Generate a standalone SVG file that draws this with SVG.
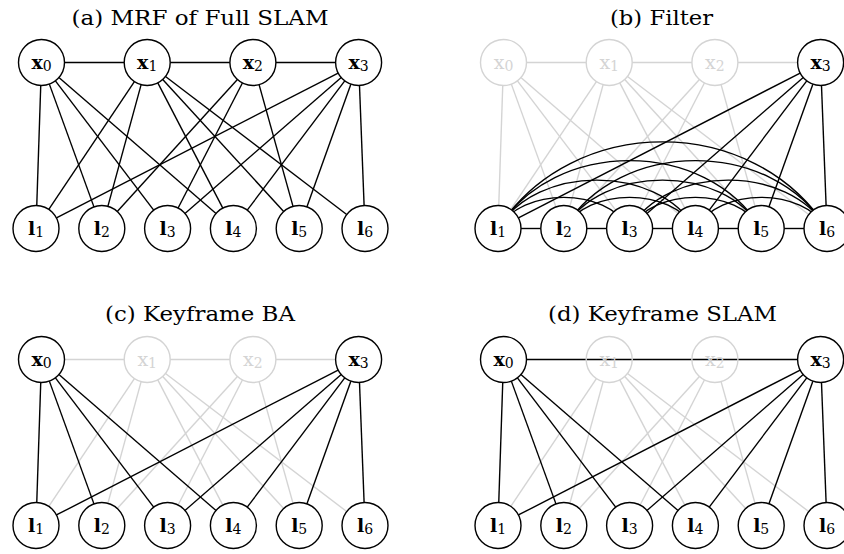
<svg xmlns="http://www.w3.org/2000/svg" width="844" height="554" viewBox="0 0 844 554">
<style>
.title{font-family:"DejaVu Serif","Liberation Serif",serif;font-size:21px;fill:#000;text-anchor:middle}
.lbl{font-family:"DejaVu Serif","Liberation Serif",serif;font-size:19px;text-anchor:middle;fill:#000}
.lbl .v{font-weight:bold}
.lbl .s{font-size:14px}
.ghost .lbl{fill:#d4d4d4}
.node circle{fill:#fff;stroke:#000;stroke-width:1.4}
.ghost circle{fill:none;stroke:#d4d4d4}
.edge line,.edge path{stroke:#000;stroke-width:1.4;fill:none}
.edge .g{stroke:#d4d4d4}
</style>
<rect width="844" height="554" fill="#fff"/>

<!-- Panel (a) -->
<g id="panel-a">
<text class="title" x="200" y="25" textLength="257" lengthAdjust="spacingAndGlyphs">(a) MRF of Full SLAM</text>
<g id="a-connectors" class="edge">
<line x1="64.5" y1="62.5" x2="124.2" y2="62.5"/>
<line x1="170.2" y1="62.5" x2="229.9" y2="62.5"/>
<line x1="275.9" y1="62.5" x2="335.6" y2="62.5"/>
<line x1="40.74" y1="85.49" x2="36.76" y2="205.51"/>
<line x1="49.35" y1="84.12" x2="93.95" y2="206.88"/>
<line x1="55.41" y1="80.82" x2="153.69" y2="210.19"/>
<line x1="58.9" y1="77.55" x2="216" y2="213.45"/>
<line x1="134.4" y1="81.61" x2="48.8" y2="209.39"/>
<line x1="141.13" y1="84.69" x2="107.87" y2="206.31"/>
<line x1="157.8" y1="82.91" x2="222.8" y2="208.09"/>
<line x1="162.73" y1="79.46" x2="283.67" y2="211.54"/>
<line x1="165.49" y1="76.44" x2="346.71" y2="214.56"/>
<line x1="237.42" y1="79.51" x2="117.28" y2="211.49"/>
<line x1="242.39" y1="82.96" x2="178.11" y2="208.04"/>
<line x1="259.08" y1="84.65" x2="293.02" y2="206.35"/>
<line x1="338.15" y1="73.02" x2="56.45" y2="217.98"/>
<line x1="341.24" y1="77.59" x2="184.96" y2="213.41"/>
<line x1="344.75" y1="80.86" x2="247.25" y2="210.14"/>
<line x1="350.85" y1="84.16" x2="306.95" y2="206.84"/>
<line x1="359.49" y1="85.48" x2="364.11" y2="205.52"/>
</g>
<g id="a-x0" class="node"><circle cx="41.5" cy="62.5" r="23"/><text class="lbl" x="41.5" y="68.5"><tspan class="v">x</tspan><tspan class="s" dy="2">0</tspan></text></g>
<g id="a-x1" class="node"><circle cx="147.2" cy="62.5" r="23"/><text class="lbl" x="147.2" y="68.5"><tspan class="v">x</tspan><tspan class="s" dy="2">1</tspan></text></g>
<g id="a-x2" class="node"><circle cx="252.9" cy="62.5" r="23"/><text class="lbl" x="252.9" y="68.5"><tspan class="v">x</tspan><tspan class="s" dy="2">2</tspan></text></g>
<g id="a-x3" class="node"><circle cx="358.6" cy="62.5" r="23"/><text class="lbl" x="358.6" y="68.5"><tspan class="v">x</tspan><tspan class="s" dy="2">3</tspan></text></g>
<g id="a-l1" class="node"><circle cx="36" cy="228.5" r="23"/><text class="lbl" x="36" y="235"><tspan class="v">l</tspan><tspan class="s" dy="2">1</tspan></text></g>
<g id="a-l2" class="node"><circle cx="101.8" cy="228.5" r="23"/><text class="lbl" x="101.8" y="235"><tspan class="v">l</tspan><tspan class="s" dy="2">2</tspan></text></g>
<g id="a-l3" class="node"><circle cx="167.6" cy="228.5" r="23"/><text class="lbl" x="167.6" y="235"><tspan class="v">l</tspan><tspan class="s" dy="2">3</tspan></text></g>
<g id="a-l4" class="node"><circle cx="233.4" cy="228.5" r="23"/><text class="lbl" x="233.4" y="235"><tspan class="v">l</tspan><tspan class="s" dy="2">4</tspan></text></g>
<g id="a-l5" class="node"><circle cx="299.2" cy="228.5" r="23"/><text class="lbl" x="299.2" y="235"><tspan class="v">l</tspan><tspan class="s" dy="2">5</tspan></text></g>
<g id="a-l6" class="node"><circle cx="365" cy="228.5" r="23"/><text class="lbl" x="365" y="235"><tspan class="v">l</tspan><tspan class="s" dy="2">6</tspan></text></g>
</g>

<!-- Panel (b) -->
<g id="panel-b" transform="translate(462,0)">
<text class="title" x="199.5" y="25" textLength="103" lengthAdjust="spacingAndGlyphs">(b) Filter</text>
<g id="b-connectors" class="edge">
<line class="g" x1="64.5" y1="62.5" x2="124.2" y2="62.5"/>
<line class="g" x1="170.2" y1="62.5" x2="229.9" y2="62.5"/>
<line class="g" x1="275.9" y1="62.5" x2="335.6" y2="62.5"/>
<line class="g" x1="40.74" y1="85.49" x2="36.76" y2="205.51"/>
<line class="g" x1="49.35" y1="84.12" x2="93.95" y2="206.88"/>
<line class="g" x1="55.41" y1="80.82" x2="153.69" y2="210.19"/>
<line class="g" x1="58.9" y1="77.55" x2="216" y2="213.45"/>
<line class="g" x1="134.4" y1="81.61" x2="48.8" y2="209.39"/>
<line class="g" x1="141.13" y1="84.69" x2="107.87" y2="206.31"/>
<line class="g" x1="157.8" y1="82.91" x2="222.8" y2="208.09"/>
<line class="g" x1="162.73" y1="79.46" x2="283.67" y2="211.54"/>
<line class="g" x1="165.49" y1="76.44" x2="346.71" y2="214.56"/>
<line class="g" x1="237.42" y1="79.51" x2="117.28" y2="211.49"/>
<line class="g" x1="242.39" y1="82.96" x2="178.11" y2="208.04"/>
<line class="g" x1="259.08" y1="84.65" x2="293.02" y2="206.35"/>
<line x1="338.15" y1="73.02" x2="56.45" y2="217.98"/>
<line x1="341.24" y1="77.59" x2="184.96" y2="213.41"/>
<line x1="344.75" y1="80.86" x2="247.25" y2="210.14"/>
<line x1="350.85" y1="84.16" x2="306.95" y2="206.84"/>
<line x1="359.49" y1="85.48" x2="364.11" y2="205.52"/>
<line x1="59" y1="228.5" x2="78.8" y2="228.5"/>
<line x1="124.8" y1="228.5" x2="144.6" y2="228.5"/>
<line x1="190.6" y1="228.5" x2="210.4" y2="228.5"/>
<line x1="256.4" y1="228.5" x2="276.2" y2="228.5"/>
<line x1="322.2" y1="228.5" x2="342" y2="228.5"/>
<path d="M36,228.5 C60,187 143.6,187 167.6,228.5"/>
<path d="M101.8,228.5 C125.8,187 209.4,187 233.4,228.5"/>
<path d="M167.6,228.5 C191.6,187 275.2,187 299.2,228.5"/>
<path d="M233.4,228.5 C257.4,187 341,187 365,228.5"/>
<path d="M36,228.5 C75,164 194.4,164 233.4,228.5"/>
<path d="M101.8,228.5 C140.8,164 260.2,164 299.2,228.5"/>
<path d="M167.6,228.5 C206.6,164 326,164 365,228.5"/>
<path d="M36,228.5 C92,138 243.2,138 299.2,228.5"/>
<path d="M101.8,228.5 C157.8,138 309,138 365,228.5"/>
<path d="M36,228.5 C110,113 291,113 365,228.5"/>
</g>
<g id="b-x0" class="node ghost"><circle cx="41.5" cy="62.5" r="23"/><text class="lbl" x="41.5" y="68.5"><tspan>x</tspan><tspan class="s" dy="2">0</tspan></text></g>
<g id="b-x1" class="node ghost"><circle cx="147.2" cy="62.5" r="23"/><text class="lbl" x="147.2" y="68.5"><tspan>x</tspan><tspan class="s" dy="2">1</tspan></text></g>
<g id="b-x2" class="node ghost"><circle cx="252.9" cy="62.5" r="23"/><text class="lbl" x="252.9" y="68.5"><tspan>x</tspan><tspan class="s" dy="2">2</tspan></text></g>
<g id="b-x3" class="node"><circle cx="358.6" cy="62.5" r="23"/><text class="lbl" x="358.6" y="68.5"><tspan class="v">x</tspan><tspan class="s" dy="2">3</tspan></text></g>
<g id="b-l1" class="node"><circle cx="36" cy="228.5" r="23"/><text class="lbl" x="36" y="235"><tspan class="v">l</tspan><tspan class="s" dy="2">1</tspan></text></g>
<g id="b-l2" class="node"><circle cx="101.8" cy="228.5" r="23"/><text class="lbl" x="101.8" y="235"><tspan class="v">l</tspan><tspan class="s" dy="2">2</tspan></text></g>
<g id="b-l3" class="node"><circle cx="167.6" cy="228.5" r="23"/><text class="lbl" x="167.6" y="235"><tspan class="v">l</tspan><tspan class="s" dy="2">3</tspan></text></g>
<g id="b-l4" class="node"><circle cx="233.4" cy="228.5" r="23"/><text class="lbl" x="233.4" y="235"><tspan class="v">l</tspan><tspan class="s" dy="2">4</tspan></text></g>
<g id="b-l5" class="node"><circle cx="299.2" cy="228.5" r="23"/><text class="lbl" x="299.2" y="235"><tspan class="v">l</tspan><tspan class="s" dy="2">5</tspan></text></g>
<g id="b-l6" class="node"><circle cx="365" cy="228.5" r="23"/><text class="lbl" x="365" y="235"><tspan class="v">l</tspan><tspan class="s" dy="2">6</tspan></text></g>
</g>

<!-- Panel (c) -->
<g id="panel-c" transform="translate(0,297)">
<text class="title" x="200" y="24" textLength="190" lengthAdjust="spacingAndGlyphs">(c) Keyframe BA</text>
<g id="c-connectors" class="edge">
<line class="g" x1="64.5" y1="62.5" x2="124.2" y2="62.5"/>
<line class="g" x1="170.2" y1="62.5" x2="229.9" y2="62.5"/>
<line class="g" x1="275.9" y1="62.5" x2="335.6" y2="62.5"/>
<line class="g" x1="134.4" y1="81.61" x2="48.8" y2="209.39"/>
<line class="g" x1="141.13" y1="84.69" x2="107.87" y2="206.31"/>
<line class="g" x1="157.8" y1="82.91" x2="222.8" y2="208.09"/>
<line class="g" x1="162.73" y1="79.46" x2="283.67" y2="211.54"/>
<line class="g" x1="165.49" y1="76.44" x2="346.71" y2="214.56"/>
<line class="g" x1="237.42" y1="79.51" x2="117.28" y2="211.49"/>
<line class="g" x1="242.39" y1="82.96" x2="178.11" y2="208.04"/>
<line class="g" x1="259.08" y1="84.65" x2="293.02" y2="206.35"/>
<line x1="40.74" y1="85.49" x2="36.76" y2="205.51"/>
<line x1="49.35" y1="84.12" x2="93.95" y2="206.88"/>
<line x1="55.41" y1="80.82" x2="153.69" y2="210.19"/>
<line x1="58.9" y1="77.55" x2="216" y2="213.45"/>
<line x1="338.15" y1="73.02" x2="56.45" y2="217.98"/>
<line x1="341.24" y1="77.59" x2="184.96" y2="213.41"/>
<line x1="344.75" y1="80.86" x2="247.25" y2="210.14"/>
<line x1="350.85" y1="84.16" x2="306.95" y2="206.84"/>
<line x1="359.49" y1="85.48" x2="364.11" y2="205.52"/>
</g>
<g id="c-x0" class="node"><circle cx="41.5" cy="62.5" r="23"/><text class="lbl" x="41.5" y="68.5"><tspan class="v">x</tspan><tspan class="s" dy="2">0</tspan></text></g>
<g id="c-x1" class="node ghost"><circle cx="147.2" cy="62.5" r="23"/><text class="lbl" x="147.2" y="68.5"><tspan>x</tspan><tspan class="s" dy="2">1</tspan></text></g>
<g id="c-x2" class="node ghost"><circle cx="252.9" cy="62.5" r="23"/><text class="lbl" x="252.9" y="68.5"><tspan>x</tspan><tspan class="s" dy="2">2</tspan></text></g>
<g id="c-x3" class="node"><circle cx="358.6" cy="62.5" r="23"/><text class="lbl" x="358.6" y="68.5"><tspan class="v">x</tspan><tspan class="s" dy="2">3</tspan></text></g>
<g id="c-l1" class="node"><circle cx="36" cy="228.5" r="23"/><text class="lbl" x="36" y="235"><tspan class="v">l</tspan><tspan class="s" dy="2">1</tspan></text></g>
<g id="c-l2" class="node"><circle cx="101.8" cy="228.5" r="23"/><text class="lbl" x="101.8" y="235"><tspan class="v">l</tspan><tspan class="s" dy="2">2</tspan></text></g>
<g id="c-l3" class="node"><circle cx="167.6" cy="228.5" r="23"/><text class="lbl" x="167.6" y="235"><tspan class="v">l</tspan><tspan class="s" dy="2">3</tspan></text></g>
<g id="c-l4" class="node"><circle cx="233.4" cy="228.5" r="23"/><text class="lbl" x="233.4" y="235"><tspan class="v">l</tspan><tspan class="s" dy="2">4</tspan></text></g>
<g id="c-l5" class="node"><circle cx="299.2" cy="228.5" r="23"/><text class="lbl" x="299.2" y="235"><tspan class="v">l</tspan><tspan class="s" dy="2">5</tspan></text></g>
<g id="c-l6" class="node"><circle cx="365" cy="228.5" r="23"/><text class="lbl" x="365" y="235"><tspan class="v">l</tspan><tspan class="s" dy="2">6</tspan></text></g>
</g>

<!-- Panel (d) -->
<g id="panel-d" transform="translate(462,297)">
<text class="title" x="200.5" y="24" textLength="229" lengthAdjust="spacingAndGlyphs">(d) Keyframe SLAM</text>
<g id="d-connectors" class="edge">
<line class="g" x1="134.4" y1="81.61" x2="48.8" y2="209.39"/>
<line class="g" x1="141.13" y1="84.69" x2="107.87" y2="206.31"/>
<line class="g" x1="157.8" y1="82.91" x2="222.8" y2="208.09"/>
<line class="g" x1="162.73" y1="79.46" x2="283.67" y2="211.54"/>
<line class="g" x1="165.49" y1="76.44" x2="346.71" y2="214.56"/>
<line class="g" x1="237.42" y1="79.51" x2="117.28" y2="211.49"/>
<line class="g" x1="242.39" y1="82.96" x2="178.11" y2="208.04"/>
<line class="g" x1="259.08" y1="84.65" x2="293.02" y2="206.35"/>
<line x1="64.5" y1="62.5" x2="335.6" y2="62.5"/>
<line x1="40.74" y1="85.49" x2="36.76" y2="205.51"/>
<line x1="49.35" y1="84.12" x2="93.95" y2="206.88"/>
<line x1="55.41" y1="80.82" x2="153.69" y2="210.19"/>
<line x1="58.9" y1="77.55" x2="216" y2="213.45"/>
<line x1="338.15" y1="73.02" x2="56.45" y2="217.98"/>
<line x1="341.24" y1="77.59" x2="184.96" y2="213.41"/>
<line x1="344.75" y1="80.86" x2="247.25" y2="210.14"/>
<line x1="350.85" y1="84.16" x2="306.95" y2="206.84"/>
<line x1="359.49" y1="85.48" x2="364.11" y2="205.52"/>
</g>
<g id="d-x0" class="node"><circle cx="41.5" cy="62.5" r="23"/><text class="lbl" x="41.5" y="68.5"><tspan class="v">x</tspan><tspan class="s" dy="2">0</tspan></text></g>
<g id="d-x1" class="node ghost"><circle cx="147.2" cy="62.5" r="23"/><text class="lbl" x="147.2" y="68.5"><tspan>x</tspan><tspan class="s" dy="2">1</tspan></text></g>
<g id="d-x2" class="node ghost"><circle cx="252.9" cy="62.5" r="23"/><text class="lbl" x="252.9" y="68.5"><tspan>x</tspan><tspan class="s" dy="2">2</tspan></text></g>
<g id="d-x3" class="node"><circle cx="358.6" cy="62.5" r="23"/><text class="lbl" x="358.6" y="68.5"><tspan class="v">x</tspan><tspan class="s" dy="2">3</tspan></text></g>
<g id="d-l1" class="node"><circle cx="36" cy="228.5" r="23"/><text class="lbl" x="36" y="235"><tspan class="v">l</tspan><tspan class="s" dy="2">1</tspan></text></g>
<g id="d-l2" class="node"><circle cx="101.8" cy="228.5" r="23"/><text class="lbl" x="101.8" y="235"><tspan class="v">l</tspan><tspan class="s" dy="2">2</tspan></text></g>
<g id="d-l3" class="node"><circle cx="167.6" cy="228.5" r="23"/><text class="lbl" x="167.6" y="235"><tspan class="v">l</tspan><tspan class="s" dy="2">3</tspan></text></g>
<g id="d-l4" class="node"><circle cx="233.4" cy="228.5" r="23"/><text class="lbl" x="233.4" y="235"><tspan class="v">l</tspan><tspan class="s" dy="2">4</tspan></text></g>
<g id="d-l5" class="node"><circle cx="299.2" cy="228.5" r="23"/><text class="lbl" x="299.2" y="235"><tspan class="v">l</tspan><tspan class="s" dy="2">5</tspan></text></g>
<g id="d-l6" class="node"><circle cx="365" cy="228.5" r="23"/><text class="lbl" x="365" y="235"><tspan class="v">l</tspan><tspan class="s" dy="2">6</tspan></text></g>
</g>
</svg>
